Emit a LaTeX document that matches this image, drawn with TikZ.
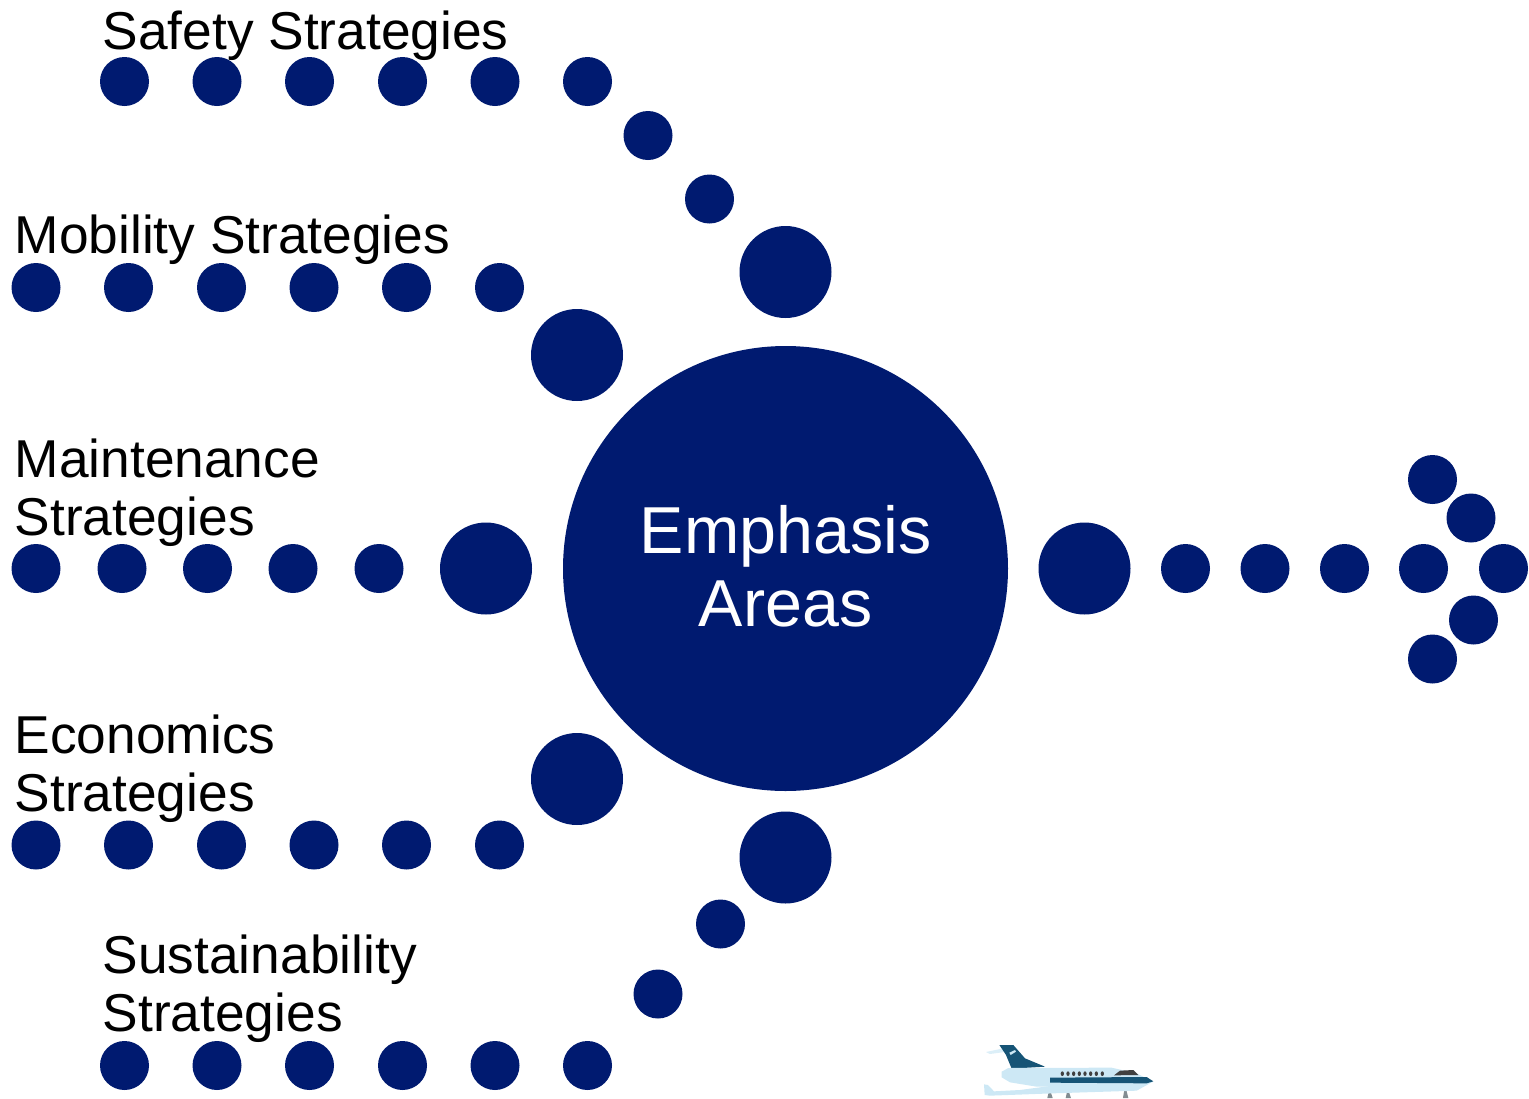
\documentclass[tikz,border=0pt]{standalone}
\usepackage{fontspec}
\setmainfont{Liberation Sans}
\definecolor{navy}{RGB}{0,26,112}
\definecolor{planepale}{RGB}{205,232,245}
\definecolor{planedark}{RGB}{22,84,118}
\definecolor{planegray}{RGB}{130,140,145}
\tikzset{
  x=1pt,y=-1pt,
  spot/.style={circle,fill=navy,draw=none,inner sep=0pt,minimum size=49pt},
  bigspot/.style={circle,fill=navy,draw=none,inner sep=0pt,minimum size=92pt},
  hub/.style={circle,fill=navy,draw=none,inner sep=0pt,minimum size=445pt},
  hubtext/.style={inner sep=0pt,text=white,align=center,font=\fontsize{66.4}{73}\selectfont},
  lab/.style={inner sep=0pt,anchor=base west,align=left,font=\fontsize{53.3}{57.5}\selectfont}
}
\begin{document}
\begin{tikzpicture}
\useasboundingbox (0,0) rectangle (1529,1098);
% hub
\node[hub] (hub) at (785.5,568.5) {};
\node[hubtext] (hubt) at (785.5,566.5) {Emphasis\\Areas};
% safety
\foreach \i/\x in {1/124.5,2/217,3/309.5,4/402.5,5/495,6/587.5}
  \node[spot] (sa\i) at (\x,81.5) {};
\node[spot] (sa7) at (648,135.5) {};
\node[spot] (sa8) at (709.5,199) {};
\node[bigspot] (sa9) at (785.5,272) {};
% mobility
\foreach \i/\x in {1/36,2/128.5,3/221.5,4/314,5/406.5,6/499.5}
  \node[spot] (mo\i) at (\x,287.5) {};
\node[bigspot] (mo7) at (577,355) {};
% maintenance
\foreach \i/\x in {1/36,2/122,3/207.5,4/293,5/379}
  \node[spot] (ma\i) at (\x,568.5) {};
\node[bigspot] (ma6) at (486,568.5) {};
% economics
\foreach \i/\x in {1/36,2/128.5,3/221.5,4/314,5/406.5,6/499.5}
  \node[spot] (ec\i) at (\x,845) {};
\node[bigspot] (ec7) at (577,779) {};
% sustainability
\foreach \i/\x in {1/124.5,2/217,3/309.5,4/402.5,5/495,6/587.5}
  \node[spot] (su\i) at (\x,1065.5) {};
\node[spot] (su7) at (658,994) {};
\node[spot] (su8) at (720.5,924) {};
\node[bigspot] (su9) at (785.5,857.5) {};
% outgoing arrow
\node[bigspot] (ar0) at (1084.5,568.5) {};
\foreach \i/\x in {1/1185.5,2/1265,3/1344.5,4/1423.5,5/1503.5}
  \node[spot] (ar\i) at (\x,568.5) {};
\node[spot] (up1) at (1471,518) {};
\node[spot] (up2) at (1432.5,479.5) {};
\node[spot] (dn1) at (1473.5,620) {};
\node[spot] (dn2) at (1432.5,659) {};
% labels (anchored on the baseline of the last line)
\node[lab] (tsa) at (102.5,49) {Safety Strategies};
\node[lab] (tmo) at (14.5,253) {Mobility Strategies};
\node[lab] (tma) at (14.5,535) {Maintenance\\Strategies};
\node[lab] (tec) at (14.5,811) {Economics\\Strategies};
\node[lab] (tsu) at (102.5,1031) {Sustainability\\Strategies};
% aircraft
\begin{scope}[shift={(970,1030)},x=0.3333pt,y=-0.3333pt]
  \clip (0,0) rectangle (600,204);
  \fill[planegray] (232,204) -- (236,186) -- (242,186) -- (248,204) -- cycle;
  \fill[planegray] (287,204) -- (291,186) -- (297,186) -- (303,204) -- cycle;
  \fill[planegray] (459,204) -- (463,180) -- (469,180) -- (475,204) -- cycle;
  \fill[planepale] (42,163) -- (54,165) -- (72,184) -- (150,180) -- (240,168) -- (540,160) -- (500,182) -- (250,190) -- (60,197) -- (44,195) -- cycle;
  \fill[planepale!70!white] (48,66) -- (95,56) -- (105,66) -- (60,72) -- cycle;
  \fill[planedark] (88,45) -- (130,45) -- (165,85) -- (225,110) -- (125,116) -- (108,75) -- cycle;
  \fill[planepale] (118,68) -- (135,60) -- (138,65) -- (122,75) -- cycle;
  \fill[planepale] (95,125) -- (115,114) -- (425,113) -- (500,130) -- (550,155) -- (520,168) -- (200,170) -- (120,157) -- (95,142) -- cycle;
  \fill[planedark] (240,143) -- (530,141) -- (550,154) -- (530,160) -- (240,158) -- cycle;
  \foreach \wx in {277,294,311,328,345,362,379,397}
    \fill[black!75] (\wx,131) ellipse [x radius=5,y radius=7];
  \fill[black!75] (432,136) -- (450,122) -- (490,120) -- (505,135) -- cycle;
\end{scope}
\end{tikzpicture}
\end{document}
